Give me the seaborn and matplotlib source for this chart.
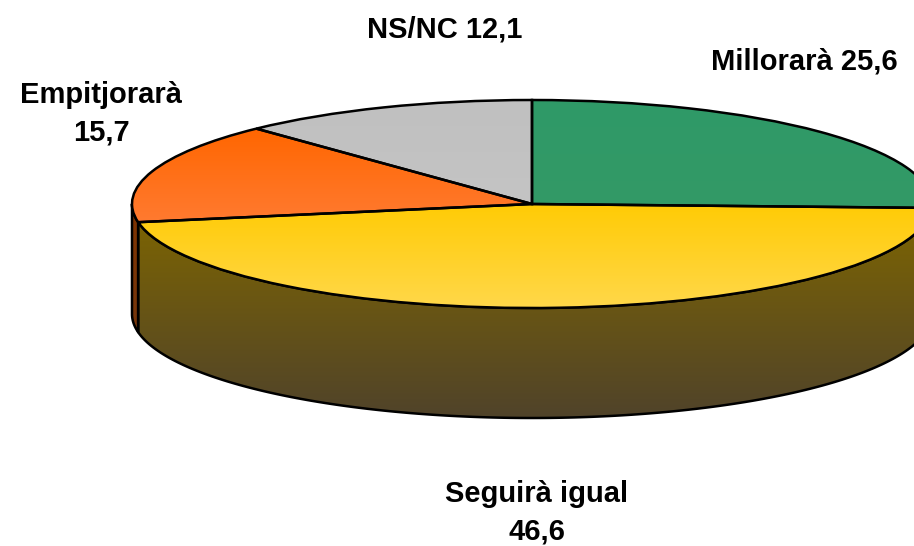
import numpy as np
import matplotlib
matplotlib.use('Agg')
import matplotlib.pyplot as plt
import seaborn as sns
from matplotlib.patches import Polygon

categories = ['Millorarà', 'Seguirà igual', 'Empitjorarà', 'NS/NC']
values = [25.6, 46.6, 15.7, 12.1]
separators = [' ', '\n', '\n', ' ']

top_colors = [('#2f9a68', '#339966'), ('#ffcb05', '#ffd84a'),
              ('#ff6600', '#ff7a30'), ('#c0c0c0', '#c4c4c4')]
side_colors = [('#1c5c3d', '#153a28'), ('#7f6600', '#50432a'),
               ('#803300', '#703a14'), ('#737373', '#555555')]
label_pos = [(804, 61), (537, 513), (101, 114), (445, 29)]

W, H = 914, 546
CX, CY, RX, RY = 532, 204, 400, 104
DEPTH = 110 / RY
LW = 1.8

sns.set_theme(style='white')
plt.rcParams['font.family'] = ['Liberation Sans', 'DejaVu Sans']


def fill_gradient(ax, patch, colors, y_top, y_bottom, z):
    # vertical gradient clipped to the patch
    cmap = sns.blend_palette(colors, n_colors=64, as_cmap=True)
    grad = np.linspace(0, 1, 128).reshape(-1, 1)
    im = ax.imshow(grad, cmap=cmap, extent=(-1.02, 1.02, y_bottom, y_top),
                   origin='upper', aspect='auto', zorder=z, interpolation='bilinear')
    im.set_clip_path(patch)


fig = plt.figure(figsize=(W / 100, H / 100), dpi=100)
ax = fig.add_axes([0, 0, 1, 1])
wedges, _ = ax.pie(values, startangle=90, counterclock=False, radius=1,
                   wedgeprops={'linewidth': LW, 'edgecolor': 'black', 'zorder': 5})

# side walls, only the front half of the disc shows
for i, w in enumerate(wedges):
    t1 = max(w.theta1, -180)
    t2 = min(w.theta2, 0)
    if t2 <= t1:
        continue
    t = np.radians(np.linspace(t1, t2, 200))
    x, y = np.cos(t), np.sin(t)
    pts = np.r_[np.c_[x, y], np.c_[x[::-1], y[::-1] - DEPTH]]
    wall = Polygon(pts, closed=True, facecolor='none', edgecolor='black',
                   linewidth=LW, joinstyle='round', zorder=3)
    ax.add_patch(wall)
    fill_gradient(ax, wall, side_colors[i], 0, -1 - DEPTH, 2)

# top face
for i, w in enumerate(wedges):
    w.set_facecolor('none')
    t = np.radians(np.linspace(w.theta1, w.theta2, 200))
    y_top = max(np.sin(t).max(), 0)
    y_bottom = min(np.sin(t).min(), 0)
    fill_gradient(ax, w, top_colors[i], y_top, y_bottom, 4)

ax.set_aspect('auto')
ax.set_xlim(-CX / RX, (W - CX) / RX)
ax.set_ylim((CY - H) / RY, CY / RY)

for name, val, sep, (px, py) in zip(categories, values, separators, label_pos):
    txt = f'{name}{sep}{val}'.replace('.', ',')
    ax.text(px / W, 1 - py / H, txt, transform=ax.transAxes, ha='center', va='center',
            fontsize=21, fontweight='bold', color='black', linespacing=1.45)

fig.savefig('out.png', dpi=100)
